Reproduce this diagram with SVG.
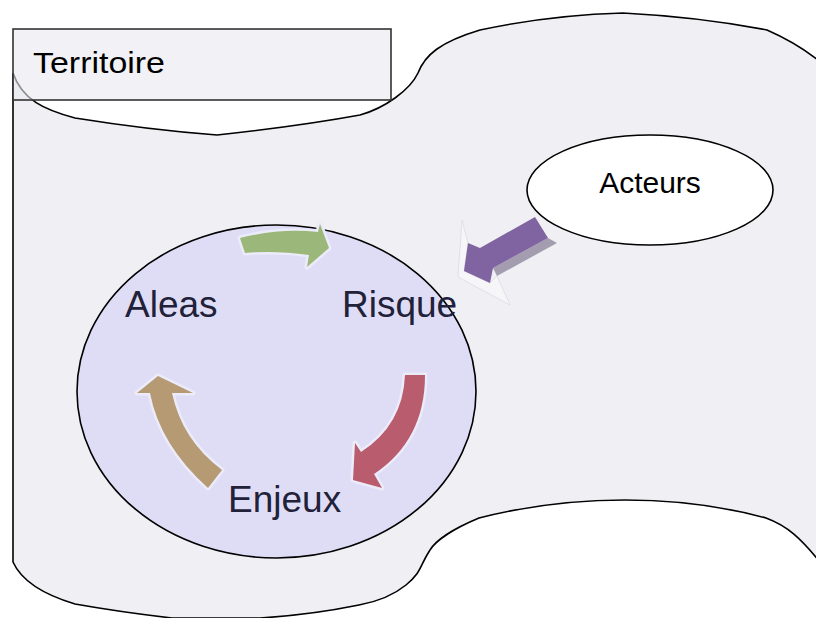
<svg xmlns="http://www.w3.org/2000/svg" width="816" height="618" viewBox="0 0 816 618">
<style>
.outline{stroke:#000;stroke-width:1.6;}
.lbl{font-family:"Liberation Sans",Arial,sans-serif;fill:#000;}
.cyc{font-family:"Liberation Sans",Arial,sans-serif;font-size:37px;fill:#212139;}
.carrow{stroke:#ebebf9;stroke-width:5;stroke-linejoin:round;paint-order:stroke;}
</style>
<rect width="816" height="618" fill="#ffffff"/>
<g id="territoire">
<path class="outline" fill="#f0eff4" d="M13,73 C22,100 45,110 75,118 Q150,130 217,135 Q300,126 360,115 C385,108 410,90 418,73 C425,55 440,42 480,30 Q550,15 623,13 Q700,17 767,30 C790,40 810,52 830,70 L830,575 C800,535 785,525 766,518 Q700,500 625,500 Q550,500 479,518 C455,528 436,540 430,550 C420,565 422,572 406,585 C390,598 370,603 359,605 Q310,615 260,618 L172,618 Q120,612 75,604 C45,595 22,582 13,562 Z"/>
<rect x="13" y="29" width="378" height="71" fill="#e8e7f0" fill-opacity="0.6" stroke="#333" stroke-width="1.6"/>
<text class="lbl" x="33" y="73" font-size="29" textLength="132" lengthAdjust="spacingAndGlyphs">Territoire</text>
</g>
<g id="acteurs">
<ellipse cx="650" cy="190" rx="123" ry="55" fill="#ffffff" class="outline"/>
<text class="lbl" x="650" y="193" font-size="30" text-anchor="middle">Acteurs</text>
</g>
<g id="cycle">
<ellipse cx="276.5" cy="391.5" rx="199.5" ry="166.5" fill="#dfddf5" class="outline"/>
</g>
<g id="connectors">
<path class="carrow" fill="#9bb87a" d="M240,238 Q280,228 318,232 L320,224 L329,248 L307,267 L309,255 Q275,250 245,253 Z"/>
<path class="carrow" fill="#b85c6e" d="M405,375 L425,375 Q425,440 374,474 L382,488 L353,480 L355,443 L361,452 Q403,425 405,375 Z"/>
<path class="carrow" fill="#b59a74" d="M208,488 Q160,445 150,393 L137,393 L158,376 L193,393 L172,393 Q182,440 222,470 Z"/>
<path fill="#f6f6f8" stroke="#dcdce0" stroke-width="0.8" d="M462,220 L468,243 L464,271 L490,283 L497,276 L510,305 L458,277 Z"/>
<path fill="#a39daf" d="M548,238 L557,243 L497,276 L493,268 Z"/>
<path fill="#8064a2" d="M535,217 L548,238 L493,268 L490,283 L464,271 L468,243 L480,248 Z"/>
</g>
<g id="labels">
<text class="cyc" x="125" y="317">Aleas</text>
<text class="cyc" x="342" y="317">Risque</text>
<text class="cyc" x="228" y="512">Enjeux</text>
</g>
</svg>
